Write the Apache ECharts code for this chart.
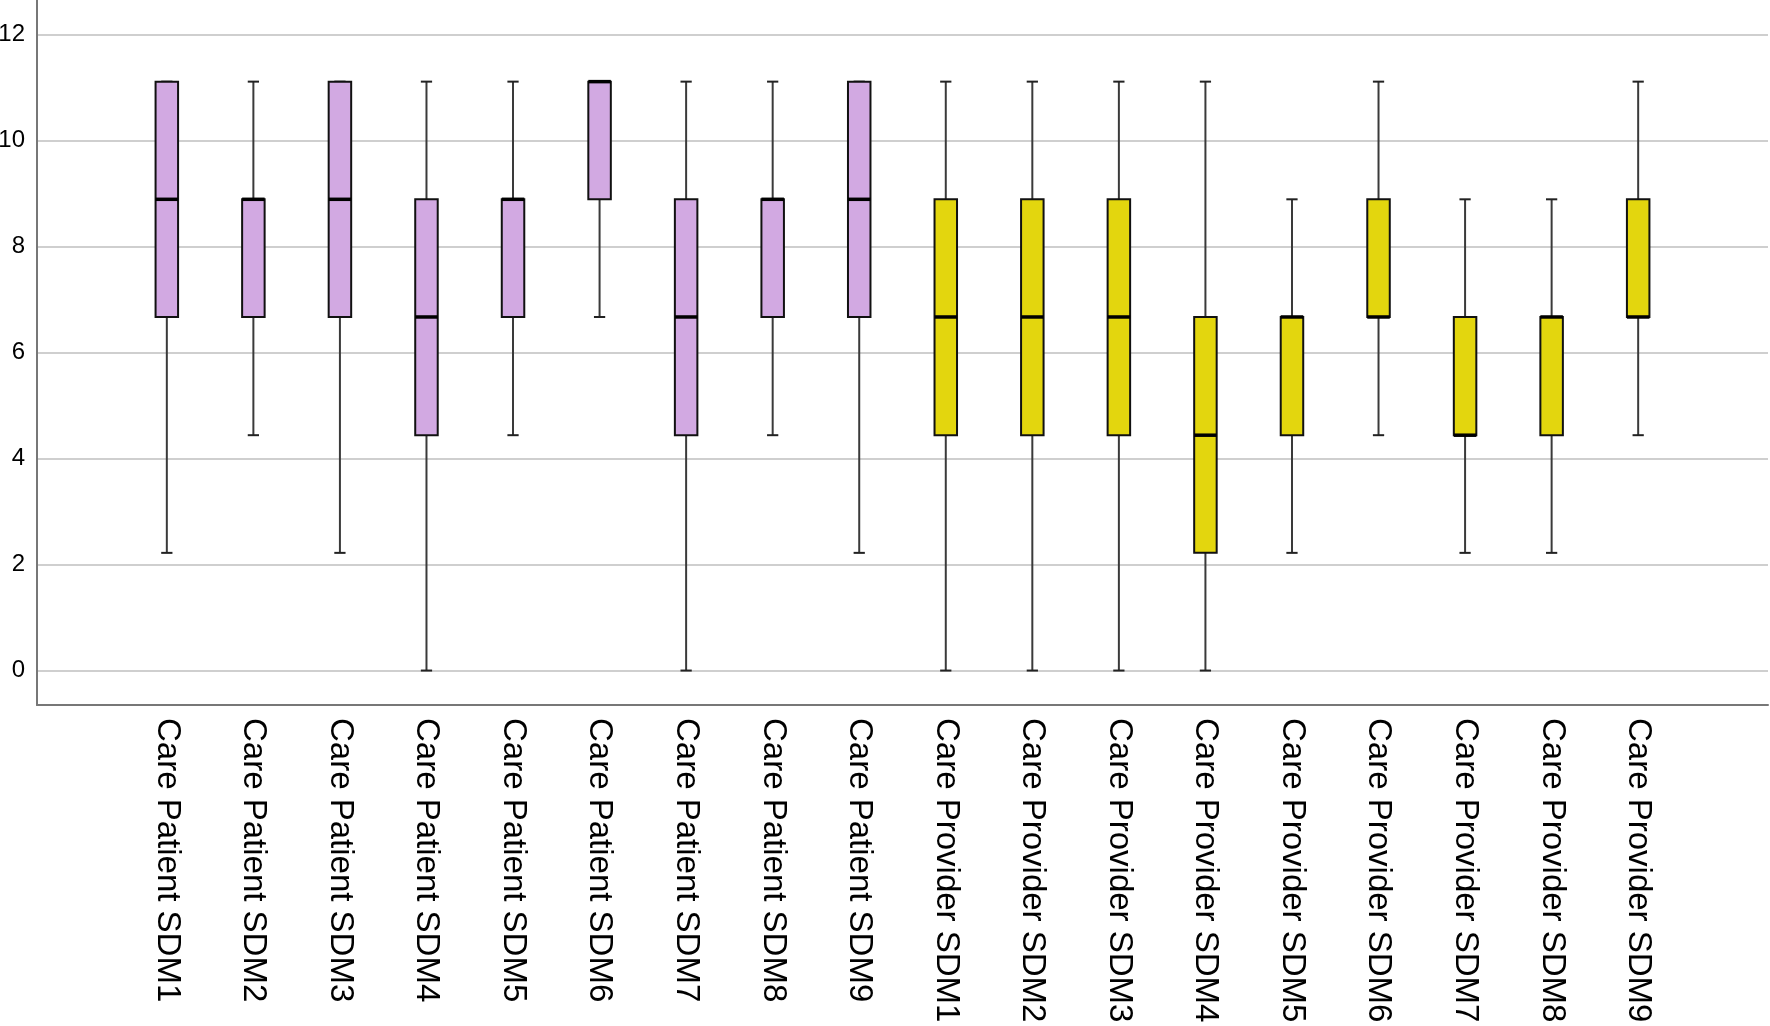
<!DOCTYPE html>
<html>
<head>
<meta charset="utf-8">
<script src="https://cdn.jsdelivr.net/npm/echarts@6/dist/echarts.min.js"></script>
<style>
html,body{margin:0;padding:0;background:#fff;}
#chart{width:1770px;height:1026px;}
</style>
</head>
<body>
<div id="chart"></div>
<script>
// Categories (left: Care Patient, right: Care Provider)
const categories = [
  'Care Patient SDM1','Care Patient SDM2','Care Patient SDM3','Care Patient SDM4','Care Patient SDM5',
  'Care Patient SDM6','Care Patient SDM7','Care Patient SDM8','Care Patient SDM9',
  'Care Provider SDM1','Care Provider SDM2','Care Provider SDM3','Care Provider SDM4','Care Provider SDM5',
  'Care Provider SDM6','Care Provider SDM7','Care Provider SDM8','Care Provider SDM9'
];
const groups = ['Patient','Patient','Patient','Patient','Patient','Patient','Patient','Patient','Patient',
  'Provider','Provider','Provider','Provider','Provider','Provider','Provider','Provider','Provider'];
// Five-number summaries
const mins    = [2.22, 4.44, 2.22, 0,    4.44, 6.67, 0,    4.44, 2.22, 0,    0,    0,    0,    2.22, 4.44, 2.22, 2.22, 4.44];
const q1s     = [6.67, 6.67, 6.67, 4.44, 6.67, 8.89, 4.44, 6.67, 6.67, 4.44, 4.44, 4.44, 2.22, 4.44, 6.67, 4.44, 4.44, 6.67];
const medians = [8.89, 8.89, 8.89, 6.67, 8.89, 11.11,6.67, 8.89, 8.89, 6.67, 6.67, 6.67, 4.44, 6.67, 6.67, 4.44, 6.67, 6.67];
const q3s     = [11.11,8.89, 11.11,8.89, 8.89, 11.11,8.89, 8.89, 11.11,8.89, 8.89, 8.89, 6.67, 6.67, 8.89, 6.67, 6.67, 8.89];
const maxs    = [11.11,11.11,11.11,11.11,11.11,11.11,11.11,11.11,11.11,11.11,11.11,11.11,11.11,8.89, 11.11,8.89, 8.89, 11.11];
const yTicks  = [0, 2, 4, 6, 8, 10, 12];

const colors = { Patient: '#D2A9E2', Provider: '#E3D60E' };
const axisCats = [''].concat(categories).concat(['']);

const data = categories.map((c, i) => ({
  value: [c, mins[i], q1s[i], medians[i], q3s[i], maxs[i]],
  group: groups[i]
}));

function renderItem(params, api) {
  const x = api.value(0);
  const band = api.size([1, 0])[0];
  const bw = band * 0.26;
  const cw = bw * 0.5;
  const pMin = api.coord([x, api.value(1)]);
  const pQ1 = api.coord([x, api.value(2)]);
  const pMed = api.coord([x, api.value(3)]);
  const pQ3 = api.coord([x, api.value(4)]);
  const pMax = api.coord([x, api.value(5)]);
  const cx = pQ1[0];
  const fill = colors[data[params.dataIndex].group];
  const whisk = { stroke: '#3a3a3a', lineWidth: 2 };
  const children = [
    { type: 'line', shape: { x1: cx, y1: pQ3[1], x2: cx, y2: pMax[1] }, style: whisk },
    { type: 'line', shape: { x1: cx, y1: pQ1[1], x2: cx, y2: pMin[1] }, style: whisk },
    { type: 'line', shape: { x1: cx - cw / 2, y1: pMax[1], x2: cx + cw / 2, y2: pMax[1] }, style: { stroke: '#222', lineWidth: 2 } },
    { type: 'line', shape: { x1: cx - cw / 2, y1: pMin[1], x2: cx + cw / 2, y2: pMin[1] }, style: { stroke: '#222', lineWidth: 2 } },
    { type: 'rect', shape: { x: cx - bw / 2, y: pQ3[1], width: bw, height: pQ1[1] - pQ3[1] },
      style: { fill: fill, stroke: '#111', lineWidth: 2 } },
    { type: 'line', shape: { x1: cx - bw / 2, y1: pMed[1], x2: cx + bw / 2, y2: pMed[1] }, style: { stroke: '#000', lineWidth: 3.5 } }
  ];
  return { type: 'group', children: children };
}

const chart = echarts.init(document.getElementById('chart'), null, { renderer: 'canvas' });
chart.setOption({
  animation: false,
  backgroundColor: '#ffffff',
  grid: { left: 37, right: 2, top: 0, bottom: 321, containLabel: false, outerBoundsMode: 'none' },
  xAxis: {
    type: 'category',
    data: axisCats,
    boundaryGap: true,
    axisLine: { show: true, onZero: false, lineStyle: { color: '#777', width: 2 } },
    axisTick: { show: false },
    axisLabel: {
      rotate: -90, margin: 13, color: '#000', fontSize: 33,
      fontFamily: 'Liberation Sans, Arial, sans-serif', interval: 0
    },
    splitLine: { show: false }
  },
  yAxis: {
    type: 'value',
    min: -0.65, max: 12.65,
    splitNumber: 6,
    axisLine: { show: true, onZero: false, lineStyle: { color: '#777', width: 2 } },
    axisTick: { show: false },
    axisLabel: {
      showMinLabel: false, showMaxLabel: false,
      color: '#000', fontSize: 24, margin: 12,
      fontFamily: 'Liberation Sans, Arial, sans-serif',
      formatter: v => (yTicks.indexOf(Math.round(v * 100) / 100) >= 0 ? String(Math.round(v)) : '')
    },
    splitLine: { show: true, showMinLine: false, showMaxLine: false, lineStyle: { color: '#cfcfcf', width: 2 } }
  },
  series: [{
    type: 'custom',
    renderItem: renderItem,
    encode: { x: 0, y: [1, 2, 3, 4, 5] },
    data: data
  }]
});
</script>
</body>
</html>
